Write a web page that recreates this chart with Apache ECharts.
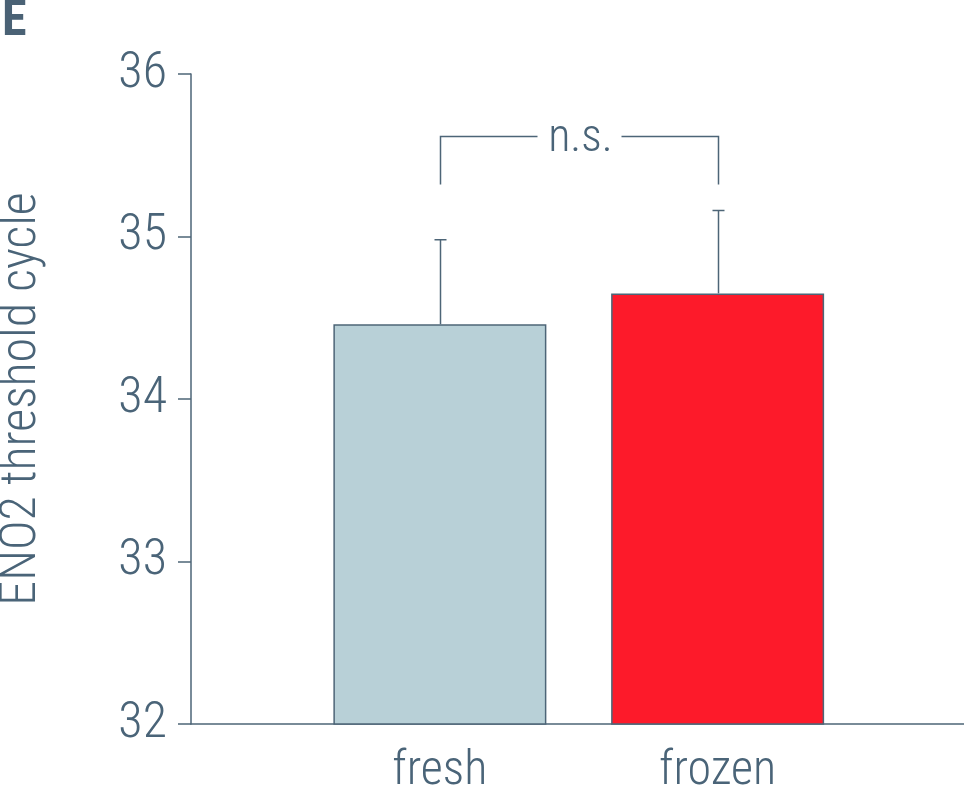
<!DOCTYPE html>
<html>
<head>
<meta charset="utf-8">
<script src="https://cdn.jsdelivr.net/npm/echarts@6/dist/echarts.min.js"></script>
<style>html,body{margin:0;padding:0;background:#fff}#c{width:964px;height:792px}</style>
</head>
<body>
<div id="c"></div>
<script>
const categories = ['fresh', 'frozen'];
const means = [34.46, 34.65];
const errTops = [34.98, 35.16];
const barColors = ['#b8d0d7', '#fd1a2a'];
const yTicks = [32, 33, 34, 35, 36];
const yTitle = 'ENO2 threshold cycle';
const panelLabel = 'E';
const sigText = 'n.s.';
const bracketTop = 35.615;
const bracketBottom = 35.32;

const FONT = "'Roboto Condensed','DejaVu Sans Condensed','Liberation Sans Narrow',Roboto,sans-serif";
const TXT = '#4a6478';
const LINE = '#4d6577';

const chart = echarts.init(document.getElementById('c'), null, {renderer: 'canvas'});
chart.setOption({
  animation: false,
  backgroundColor: '#fff',
  grid: [
    {left: 191, right: 0, top: 74, bottom: 68, containLabel: false, outerBoundsMode: 'none'},
    {left: 301, right: 107.5, top: 74, bottom: 68, containLabel: false, outerBoundsMode: 'none'}
  ],
  xAxis: [
    {gridIndex: 0, type: 'value', min: 0, max: 1, axisLine: {show: true, lineStyle: {color: LINE, width: 1.5}},
     axisTick: {show: false}, axisLabel: {show: false}, splitLine: {show: false}},
    {gridIndex: 1, type: 'category', data: categories, axisLine: {show: false}, axisTick: {show: false},
     axisLabel: {color: TXT, fontFamily: FONT, fontSize: 48, fontWeight: 300, margin: 24}}
  ],
  yAxis: [
    {gridIndex: 0, type: 'value', min: yTicks[0], max: yTicks[yTicks.length - 1], interval: 1,
     axisLine: {show: true, lineStyle: {color: LINE, width: 1.5}},
     axisTick: {show: true, length: 13, lineStyle: {color: LINE, width: 1.5}},
     axisLabel: {color: TXT, fontFamily: FONT, fontSize: 50, fontWeight: 300, margin: 24},
     splitLine: {show: false},
     name: yTitle, nameLocation: 'middle', nameGap: 144, nameRotate: 90,
     nameTextStyle: {color: TXT, fontFamily: FONT, fontSize: 50, fontWeight: 300}},
    {gridIndex: 1, type: 'value', min: yTicks[0], max: yTicks[yTicks.length - 1], show: false}
  ],
  graphic: [
    {type: 'text', left: 2, top: -3, style: {text: panelLabel, fill: '#4a6275', font: "bold 50px " + FONT}}
  ],
  series: [
    {type: 'bar', xAxisIndex: 1, yAxisIndex: 1, barWidth: 213,
     data: means.map((v, i) => ({value: v, itemStyle: {color: barColors[i]}})),
     itemStyle: {borderColor: LINE, borderWidth: 1.5}},
    {type: 'custom', xAxisIndex: 1, yAxisIndex: 1, z: 5,
     data: means.map((v, i) => [i, v, errTops[i]]),
     renderItem: function (params, api) {
       const p0 = api.coord([api.value(0), api.value(1)]);
       const p1 = api.coord([api.value(0), api.value(2)]);
       const x = Math.round(p0[0]) + 0.5;
       return {type: 'group', children: [
         {type: 'line', shape: {x1: x, y1: p0[1], x2: x, y2: p1[1]}, style: {stroke: LINE, lineWidth: 1.5}},
         {type: 'line', shape: {x1: x - 6, y1: p1[1], x2: x + 6, y2: p1[1]}, style: {stroke: LINE, lineWidth: 1.5}}
       ]};
     }},
    {type: 'custom', xAxisIndex: 1, yAxisIndex: 1, z: 5,
     data: [[0, 1, bracketBottom, bracketTop]],
     renderItem: function (params, api) {
       const a = api.coord([api.value(0), api.value(2)]);
       const b = api.coord([api.value(0), api.value(3)]);
       const c = api.coord([api.value(1), api.value(3)]);
       const d = api.coord([api.value(1), api.value(2)]);
       const xa = Math.round(a[0]) + 0.5, xd = Math.round(d[0]) + 0.5;
       const mid = (xa + xd) / 2;
       const gap = 42;
       return {type: 'group', children: [
         {type: 'polyline', shape: {points: [[xa, a[1]], [xa, b[1]], [mid - gap, b[1]]]}, style: {stroke: LINE, lineWidth: 1.5, fill: null}},
         {type: 'polyline', shape: {points: [[mid + gap, c[1]], [xd, c[1]], [xd, d[1]]]}, style: {stroke: LINE, lineWidth: 1.5, fill: null}},
         {type: 'text', x: mid + 1, y: b[1] + 3, style: {text: sigText, fill: TXT, font: "300 46px " + FONT, align: 'center', verticalAlign: 'middle'}}
       ]};
     }}
  ]
});
</script>
</body>
</html>
